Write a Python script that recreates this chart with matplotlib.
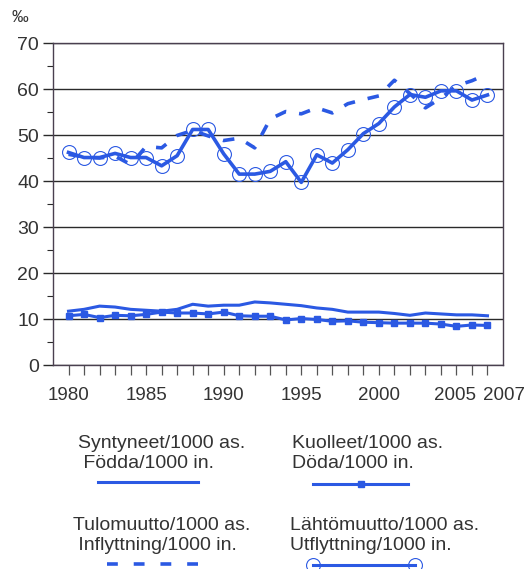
import numpy as np
import matplotlib
matplotlib.use("Agg")
import matplotlib.pyplot as plt
import matplotlib.transforms as mtransforms
from matplotlib.lines import Line2D
from matplotlib.ticker import MultipleLocator

# -------------------------------
# Data (per mille)
# -------------------------------
years = list(range(1980, 2008))
births = [11.7, 12.1, 12.8, 12.6, 12.1, 11.9, 11.7, 12.1, 13.2, 12.8, 13.0, 13.0, 13.7, 13.5,
          13.2, 12.9, 12.4, 12.1, 11.5, 11.5, 11.5, 11.2, 10.8, 11.3, 11.1, 10.9, 10.9, 10.7]
deaths = [10.7, 11.0, 10.3, 10.8, 10.7, 11.0, 11.5, 11.3, 11.3, 11.1, 11.5, 10.7, 10.6, 10.6,
          9.8, 10.1, 9.9, 9.5, 9.6, 9.3, 9.2, 9.1, 9.1, 9.1, 8.9, 8.4, 8.7, 8.6]
inmig = [45.8, 45.2, 45.0, 45.4, 43.6, 47.5, 47.2, 49.9, 51.0, 49.8, 48.8, 49.3, 47.2, 53.5,
         55.1, 54.6, 55.9, 54.8, 56.8, 57.7, 58.5, 61.9, 59.0, 55.9, 58.0, 60.7, 61.8, 63.3]
outmig = [46.2, 45.1, 45.1, 46.0, 45.1, 45.1, 43.3, 45.5, 51.2, 51.2, 45.9, 41.5, 41.5, 42.1,
          44.2, 39.7, 45.7, 43.9, 46.8, 50.3, 52.5, 56.1, 58.8, 58.2, 59.6, 59.6, 57.6, 58.7]

tick_years = [1980, 1985, 1990, 1995, 2000, 2005, 2007]
labels = [
    ("Syntyneet/1000 as.", " Födda/1000 in."),
    ("Kuolleet/1000 as.", "Döda/1000 in."),
    ("Tulomuutto/1000 as.", " Inflyttning/1000 in."),
    ("Lähtömuutto/1000 as.", "Utflyttning/1000 in."),
]

# -------------------------------
# Style
# -------------------------------
plt.rcParams['font.family'] = ['Liberation Sans', 'DejaVu Sans']
blue = "#2b59e3"
txt = "#333333"
grid = "#2a2a2a"

W, H = 528, 569
fig = plt.figure(figsize=(W / 100, H / 100), dpi=100)


def fx(x):
    return x / W


def fy(y):
    return 1 - y / H


ax = fig.add_axes([fx(53), fy(365), 450 / W, 322 / H])
ax.set_xlim(1979, 2008)
ax.set_ylim(0, 70)

# plot series
ax.plot(years, births, color=blue, lw=2.2, zorder=3)
ax.plot(years, deaths, color=blue, lw=2.2, marker="s", ms=5, zorder=3)
ax.plot(years, outmig, color=blue, lw=2.6, marker="o", ms=10, mfc="none",
        mec=blue, mew=0.8, zorder=3)
ax.plot(years, inmig, color=blue, lw=2.6, ls=(0, (3.2, 3.6)), zorder=4)

# axes styling
ax.yaxis.set_major_locator(MultipleLocator(10))
ax.yaxis.set_minor_locator(MultipleLocator(5))
ax.set_xticks(years)
ax.set_xticklabels([str(y) if y in tick_years else "" for y in years])
ax.grid(axis="y", color=grid, lw=1.0, zorder=1)
ax.tick_params(axis="y", which="major", length=7, width=1.0, color=grid,
               labelsize=14, labelcolor=txt, pad=3)
ax.tick_params(axis="y", which="minor", length=4, width=0.8, color=grid)
ax.tick_params(axis="x", length=7, width=0.9, color="#555555",
               labelsize=13.5, labelcolor=txt, pad=9)
for side in ["left", "bottom", "right", "top"]:
    ax.spines[side].set_color("#4a4050")
    ax.spines[side].set_linewidth(1.0)

# nudge the last two year labels apart, as in the original
for lab in ax.get_xticklabels():
    if lab.get_text() == "2007":
        lab.set_transform(lab.get_transform() + mtransforms.ScaledTranslation(12 / 72, 0, fig.dpi_scale_trans))
    elif lab.get_text() == "2005":
        lab.set_transform(lab.get_transform() + mtransforms.ScaledTranslation(-1 / 72, 0, fig.dpi_scale_trans))

fig.text(fx(12), fy(17), "‰", fontsize=12, color=txt, va="center", ha="left")

# -------------------------------
# Legend drawn by hand below the chart
# -------------------------------
text_pos = [((78, 443), (78, 464)), ((292, 443), (292, 464)),
            ((73, 525), (73, 546)), ((290, 525), (290, 546))]
for (l1, l2), ((x1, y1), (x2, y2)) in zip(labels, text_pos):
    fig.text(fx(x1), fy(y1), l1, fontsize=14, color=txt, va="center", ha="left")
    fig.text(fx(x2), fy(y2), l2, fontsize=14, color=txt, va="center", ha="left")

tf = fig.transFigure
fig.add_artist(Line2D([fx(98), fx(198)], [fy(482), fy(482)], color=blue, lw=2.2, transform=tf))
fig.add_artist(Line2D([fx(313), fx(408)], [fy(484), fy(484)], color=blue, lw=2.2, transform=tf))
fig.add_artist(Line2D([fx(361)], [fy(484)], color=blue, marker="s", ms=5, transform=tf))
fig.add_artist(Line2D([fx(107), fx(198)], [fy(564), fy(564)], color=blue, lw=2.6,
                      ls=(0, (3.0, 4.4)), transform=tf))
fig.add_artist(Line2D([fx(313), fx(415)], [fy(565), fy(565)], color=blue, lw=2.2, transform=tf))
fig.add_artist(Line2D([fx(313), fx(415)], [fy(565), fy(565)], color=blue, lw=0, marker="o",
                      ms=10, mfc="none", mec=blue, mew=0.8, transform=tf))

fig.savefig("out.png", dpi=100)
